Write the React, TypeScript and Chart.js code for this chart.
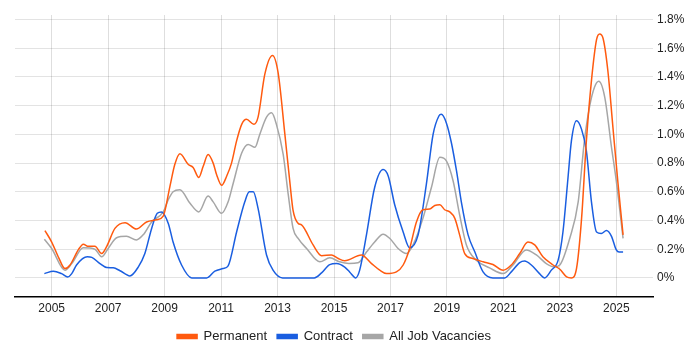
import React, { useEffect, useRef } from "react";
import { Chart, registerables } from "chart.js";

Chart.register(...registerables);

const permanentYears = [
  2004.76, 2005.0, 2005.25, 2005.47, 2005.65, 2005.94, 2006.12, 2006.3, 2006.53, 2006.77, 2006.95,
  2007.24, 2007.6, 2008.0, 2008.36, 2008.72, 2008.95, 2009.19, 2009.36, 2009.54, 2009.84, 2010.01,
  2010.21, 2010.37, 2010.54, 2010.72, 2010.84, 2011.02, 2011.2, 2011.37, 2011.55, 2011.73, 2011.9,
  2012.16, 2012.31, 2012.55, 2012.82, 2013.02, 2013.26, 2013.44, 2013.55, 2013.73, 2013.85, 2014.26,
  2014.56, 2014.91, 2015.15, 2015.38, 2015.97, 2016.33, 2016.62, 2016.86, 2017.21, 2017.45, 2017.68,
  2017.92, 2018.15, 2018.39, 2018.57, 2018.75, 2018.92, 2019.1, 2019.28, 2019.45, 2019.63, 2019.92,
  2020.28, 2020.63, 2020.99, 2021.28, 2021.58, 2021.87, 2022.11, 2022.4, 2022.76, 2023.0, 2023.24,
  2023.41, 2023.59, 2023.77, 2023.94, 2024.12, 2024.3, 2024.41, 2024.53, 2024.7, 2024.88, 2025.06,
  2025.24,
];
const permanentValues = [
  0.33, 0.25, 0.14, 0.065, 0.09, 0.195, 0.235, 0.22, 0.22, 0.17, 0.22,
  0.345, 0.385, 0.34, 0.39, 0.405, 0.43, 0.64, 0.79, 0.865, 0.79, 0.77,
  0.7, 0.78, 0.86, 0.8, 0.72, 0.645, 0.71, 0.8, 0.955, 1.07, 1.105,
  1.07, 1.12, 1.42, 1.55, 1.43, 1.0, 0.66, 0.47, 0.38, 0.37, 0.23,
  0.155, 0.16, 0.135, 0.12, 0.16, 0.1, 0.054, 0.03, 0.042, 0.09, 0.205,
  0.39, 0.475, 0.48, 0.505, 0.51, 0.475, 0.46, 0.415, 0.3, 0.17, 0.135,
  0.112, 0.093, 0.054, 0.09, 0.17, 0.25, 0.23, 0.147, 0.09, 0.06, 0.007,
  0.0, 0.065, 0.415, 0.955, 1.375, 1.66, 1.7, 1.67, 1.445, 1.05, 0.66,
  0.3,
];

const contractYears = [
  2004.74, 2005.06, 2005.35, 2005.57, 2005.71, 2005.88, 2006.26, 2006.42, 2006.71, 2006.95, 2007.18,
  2007.42, 2007.77, 2008.07, 2008.3, 2008.54, 2008.74, 2008.89, 2009.13, 2009.3, 2009.6, 2009.96,
  2010.49, 2010.78, 2011.07, 2011.25, 2011.55, 2011.84, 2012.0, 2012.14, 2012.31, 2012.61, 2012.84,
  2013.18, 2014.3, 2014.56, 2014.85, 2015.09, 2015.38, 2015.56, 2015.77, 2015.91, 2016.15, 2016.44,
  2016.74, 2016.92, 2017.15, 2017.45, 2017.68, 2017.98, 2018.27, 2018.51, 2018.72, 2018.8, 2018.98,
  2019.16, 2019.34, 2019.51, 2019.75, 2019.99, 2020.28, 2020.63, 2021.05, 2021.28, 2021.58, 2021.75,
  2021.99, 2022.28, 2022.46, 2022.7, 2022.94, 2023.11, 2023.29, 2023.41, 2023.59, 2023.77, 2023.94,
  2024.12, 2024.3, 2024.47, 2024.65, 2024.83, 2025.0, 2025.1, 2025.24,
];
const contractValues = [
  0.03, 0.047, 0.03, 0.007, 0.03, 0.09, 0.147, 0.143, 0.1, 0.072, 0.07,
  0.05, 0.014, 0.077, 0.17, 0.345, 0.45, 0.46, 0.38, 0.25, 0.09, 0.0,
  0.0, 0.047, 0.065, 0.084, 0.32, 0.53, 0.6, 0.6, 0.485, 0.16, 0.054,
  0.0, 0.0, 0.035, 0.093, 0.1, 0.075, 0.04, 0.0, 0.054, 0.3, 0.63,
  0.755, 0.71, 0.51, 0.32, 0.21, 0.3, 0.65, 1.0, 1.13, 1.14, 1.08,
  0.94, 0.745, 0.53, 0.3, 0.18, 0.042, 0.0, 0.0, 0.042, 0.107, 0.117,
  0.09, 0.03, 0.0, 0.054, 0.124, 0.32, 0.7, 0.955, 1.095, 1.035, 0.885,
  0.53, 0.32, 0.31, 0.33, 0.29, 0.195, 0.18, 0.18,
];

const allYears = [
  2004.74, 2005.0, 2005.47, 2005.71, 2006.12, 2006.53, 2006.77, 2007.0, 2007.3, 2007.65, 2008.0,
  2008.24, 2008.54, 2008.95, 2009.13, 2009.3, 2009.54, 2009.9, 2010.21, 2010.54, 2010.72, 2011.02,
  2011.25, 2011.43, 2011.73, 2011.96, 2012.2, 2012.37, 2012.61, 2012.79, 2012.96, 2013.2, 2013.38,
  2013.55, 2013.73, 2014.03, 2014.5, 2014.85, 2015.2, 2015.53, 2015.85, 2016.15, 2016.44, 2016.74,
  2016.98, 2017.27, 2017.57, 2017.8, 2018.15, 2018.45, 2018.75, 2018.98, 2019.22, 2019.45, 2019.69,
  2020.04, 2020.51, 2020.99, 2021.34, 2021.81, 2022.17, 2022.52, 2022.81, 2023.0, 2023.35, 2023.65,
  2023.87, 2024.05, 2024.23, 2024.38, 2024.59, 2024.83, 2025.0, 2025.24,
];
const allValues = [
  0.27, 0.205, 0.054, 0.1, 0.21, 0.2, 0.147, 0.205, 0.28, 0.29, 0.265,
  0.3, 0.39, 0.46, 0.545, 0.6, 0.615, 0.52, 0.46, 0.57, 0.53, 0.45,
  0.53, 0.66, 0.87, 0.93, 0.91, 1.0, 1.12, 1.15, 1.07, 0.86, 0.58,
  0.345, 0.275, 0.205, 0.112, 0.14, 0.112, 0.1, 0.105, 0.18, 0.25, 0.305,
  0.275, 0.205, 0.17, 0.23, 0.415, 0.63, 0.84, 0.815, 0.675, 0.44, 0.23,
  0.124, 0.07, 0.03, 0.09, 0.195, 0.16, 0.1, 0.077, 0.09, 0.275, 0.53,
  0.955, 1.19, 1.33, 1.37, 1.26, 0.91, 0.675, 0.275,
];

const xTickYears = [2005, 2007, 2009, 2011, 2013, 2015, 2017, 2019, 2021, 2023, 2025];
const yTickValues = [0, 0.2, 0.4, 0.6, 0.8, 1.0, 1.2, 1.4, 1.6, 1.8];

const seriesNames = ["Permanent", "Contract", "All Job Vacancies"];
const seriesColors = ["#ff5a0f", "#1a5ee0", "#a6a6a6"];

function toPoints(xs: number[], ys: number[]) {
  return xs.map((x, i) => ({ x, y: ys[i] }));
}

export default function App() {
  const canvasRef = useRef<HTMLCanvasElement | null>(null);

  useEffect(() => {
    if (!canvasRef.current) return;
    const seriesData = [
      toPoints(permanentYears, permanentValues),
      toPoints(contractYears, contractValues),
      toPoints(allYears, allValues),
    ];
    const chart = new Chart(canvasRef.current, {
      type: "line",
      data: {
        datasets: seriesNames.map((name, i) => ({
          label: name,
          data: seriesData[i],
          borderColor: seriesColors[i],
          backgroundColor: seriesColors[i],
          borderWidth: 1.5,
          pointRadius: 0,
          pointHoverRadius: 0,
          cubicInterpolationMode: "monotone" as const,
          fill: false,
        })),
      },
      options: {
        animation: false,
        responsive: true,
        maintainAspectRatio: false,
        layout: { padding: { left: 15, top: 15, right: 0, bottom: -3 } },
        font: { family: "'Liberation Sans', Arial, sans-serif" },
        plugins: {
          tooltip: { enabled: false },
          legend: {
            position: "bottom",
            fullSize: false,
            labels: {
              boxWidth: 20,
              boxHeight: 4,
              padding: 10,
              color: "#222",
              font: { family: "'Liberation Sans', Arial, sans-serif", size: 13 },
            },
          },
        },
        scales: {
          x: {
            type: "linear",
            min: 2003.7,
            max: 2026.3,
            afterBuildTicks: (scale: any) => {
              scale.ticks = xTickYears.map((v) => ({ value: v }));
            },
            afterFit: (scale: any) => {
              scale.height = 23;
            },
            grid: { color: "rgba(0,0,0,0.13)", drawTicks: false, lineWidth: 1 },
            border: { display: true, color: "#000", width: 1.5 },
            ticks: {
              padding: 4,
              color: "#222",
              maxRotation: 0,
              autoSkip: false,
              font: { family: "'Liberation Sans', Arial, sans-serif", size: 12 },
              callback: (v: any) => String(v),
            },
          },
          y: {
            type: "linear",
            position: "right",
            min: -0.133,
            max: 1.832,
            afterBuildTicks: (scale: any) => {
              scale.ticks = yTickValues.map((v) => ({ value: v }));
            },
            afterFit: (scale: any) => {
              scale.width = 47;
            },
            grid: { color: "rgba(0,0,0,0.11)", drawTicks: false, lineWidth: 1 },
            border: { display: false },
            ticks: {
              padding: 4,
              color: "#222",
              autoSkip: false,
              font: { family: "'Liberation Sans', Arial, sans-serif", size: 12 },
              callback: (v: any) => (Math.abs(v) < 1e-9 ? "0%" : Number(v).toFixed(1) + "%"),
            },
          },
        },
      },
    });
    return () => chart.destroy();
  }, []);

  return (
    <div style={{ position: "fixed", left: 0, top: 0, width: 700, height: 350, background: "#fff" }}>
      <canvas ref={canvasRef} />
    </div>
  );
}
